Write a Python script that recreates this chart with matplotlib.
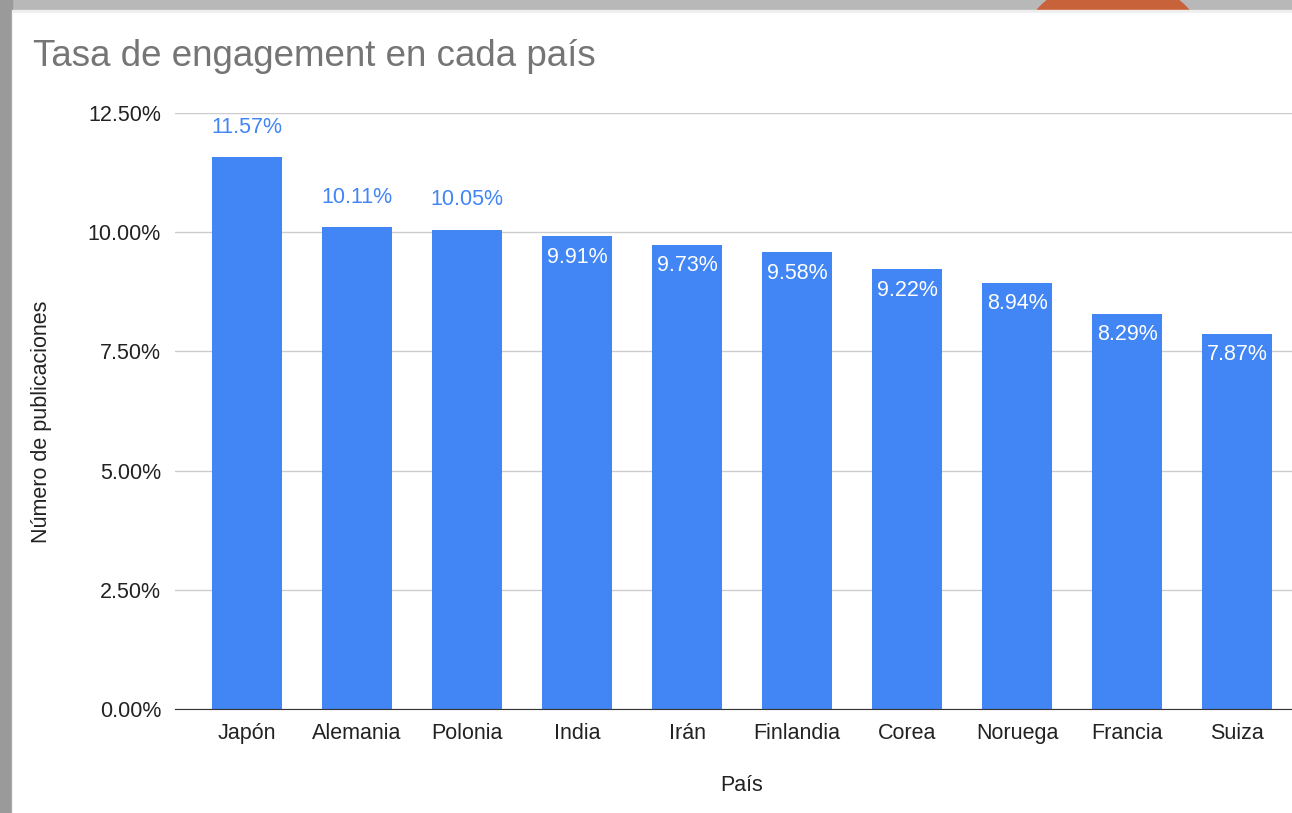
import matplotlib.pyplot as plt
from matplotlib.patches import Rectangle, Ellipse

plt.rcParams['font.family'] = ['Liberation Sans', 'DejaVu Sans']

paises = ['Japón', 'Alemania', 'Polonia', 'India', 'Irán', 'Finlandia',
          'Corea', 'Noruega', 'Francia', 'Suiza']
engagement = [11.57, 10.11, 10.05, 9.91, 9.73, 9.58, 9.22, 8.94, 8.29, 7.87]
yticks = [0.0, 2.5, 5.0, 7.5, 10.0, 12.5]

W, H = 1292, 813
fig = plt.figure(figsize=(W / 100, H / 100), dpi=100)
fig.patch.set_facecolor('#b8b8b8')

# screenshot frame: orange blob behind the card, gray edges, white card
fig.patches.append(Ellipse((1113 / W, 1 - 40 / H), 175 / W, 120 / H,
                           transform=fig.transFigure, color='#c8623a', zorder=0))
fig.patches.append(Rectangle((0, 0), 12 / W, 1, transform=fig.transFigure,
                             color='#9a9a9a', zorder=0))
fig.patches.append(Rectangle((12 / W, 0), 1, 1 - 10 / H, transform=fig.transFigure,
                             color='#eeeeee', zorder=1))
fig.patches.append(Rectangle((13 / W, 0), 1, 1 - 13 / H, transform=fig.transFigure,
                             color='white', zorder=1))

ax = fig.add_axes([175 / W, 1 - 709 / H, 1 - 175 / W, (709 - 113) / H])
ax.set_zorder(5)
ax.set_facecolor('none')
x = list(range(len(paises)))
ax.bar(x, engagement, width=0.64, color='#4285f4', zorder=3)

for i, v in enumerate(engagement):
    txt = f'{v:.2f}%'
    if v > 10:
        ax.annotate(txt, (i, v), xytext=(0, 14), textcoords='offset points',
                    ha='center', va='bottom', color='#4285f4', fontsize=15.5)
    else:
        ax.annotate(txt, (i, v), xytext=(0, -7.5), textcoords='offset points',
                    ha='center', va='top', color='white', fontsize=15.5)

ax.set_xlim(-0.655, 9.5)
ax.set_ylim(0, 12.5)
ax.set_yticks(yticks)
ax.set_yticklabels([f'{t:.2f}%' for t in yticks])
ax.set_xticks(x)
ax.set_xticklabels(paises)
ax.tick_params(length=0, labelsize=15.5, colors='#222222', pad=10)
ax.grid(axis='y', color='#cccccc', linewidth=1, zorder=0)
for s in ['top', 'right', 'left']:
    ax.spines[s].set_visible(False)
ax.spines['bottom'].set_color('#333333')
ax.spines['bottom'].set_zorder(4)

fig.text(33 / W, 1 - 57 / H, 'Tasa de engagement en cada país', fontsize=26.5,
         color='#757575', va='center', ha='left')
fig.text(42 / W, 1 - 422 / H, 'Número de publicaciones', rotation=90,
         fontsize=15.5, color='#222222', va='center', ha='center')
fig.text(742 / W, 1 - 785 / H, 'País', fontsize=15.5, color='#222222',
         va='center', ha='center')

fig.savefig('out.png', dpi=100, facecolor=fig.get_facecolor())
